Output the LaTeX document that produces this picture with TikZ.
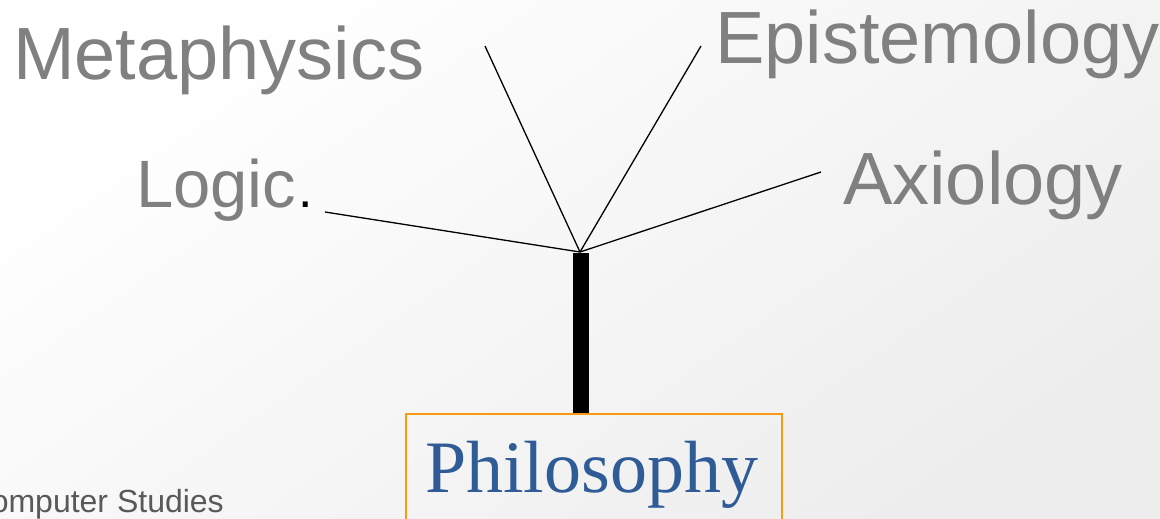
\documentclass[tikz,border=0pt]{standalone}
\usepackage{fontspec}
\setmainfont{Liberation Serif}
\setsansfont{Liberation Sans}
\definecolor{labelgray}{HTML}{808080}
\definecolor{footgray}{HTML}{595959}
\definecolor{philblue}{HTML}{2F5B97}
\definecolor{boxorange}{HTML}{F79B13}
\tikzset{
  branch/.style={draw=black, line width=1.3pt},
  trunk/.style={draw=black, line width=16pt},
  label/.style={font=\sffamily\fontsize{74}{80}\selectfont, text=labelgray, inner sep=0pt, anchor=base west},
}
\begin{document}
\begin{tikzpicture}[x=1pt,y=-1pt]
\useasboundingbox (0,0) rectangle (1160,519);
\clip (0,0) rectangle (1160,519);
\shade[shading=axis, top color=white, bottom color=black!7, shading angle=35] (0,0) rectangle (1160,519);

% labels
\node[label] (meta) at (13,80) {Metaphysics};
\node[label] (epi) at (715,64) {Epistemology};
\node[label, font=\sffamily\fontsize{67}{72}\selectfont] (logic) at (136,207) {Logic\textcolor{black}{\fontsize{52}{56}\selectfont\kern2pt.}};
\node[label] (axi) at (843,204) {Axiology};

% connector end points
\coordinate (J) at (580,252);
\coordinate (eMeta) at (485,46);
\coordinate (eEpi) at (701,46);
\coordinate (eLogic) at (325,212);
\coordinate (eAxi) at (821,172);

\draw[branch] (eMeta) -- (J);
\draw[branch] (eEpi) -- (J);
\draw[branch] (eLogic) -- (J);
\draw[branch] (eAxi) -- (J);

% box
\node[draw=boxorange, line width=2.2pt, minimum width=376pt, minimum height=140pt, anchor=north west, inner sep=0pt] (box) at (405,413) {};
\node[font=\rmfamily\fontsize{74}{78}\selectfont, text=philblue, inner sep=0pt, anchor=base west] (phil) at (425,492) {Philosophy};

\coordinate (Jt) at (581,253);
\draw[trunk] (Jt) -- (Jt |- box.north);

% footer
\node[font=\sffamily\fontsize{32}{36}\selectfont, text=footgray, inner sep=0pt, anchor=base east] (foot) at (224,512) {Computer Studies};
\end{tikzpicture}
\end{document}
